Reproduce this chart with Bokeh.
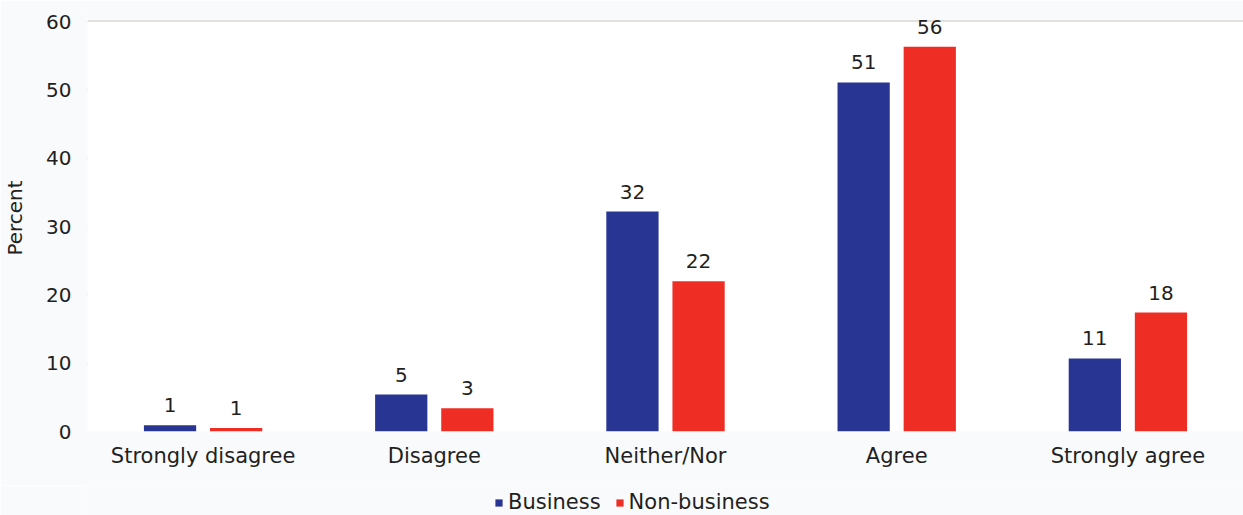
from bokeh.plotting import figure
from bokeh.layouts import column
from bokeh.models import ColumnDataSource, LabelSet, Legend, LegendItem, FactorRange, BoxAnnotation
from bokeh.transform import dodge
from bokeh.core.properties import value
from bokeh.embed import file_html
from bokeh.resources import INLINE

categories = ["Strongly disagree", "Disagree", "Neither/Nor", "Agree", "Strongly agree"]
business = [0.9, 5.4, 32.2, 51.1, 10.7]
nonbusiness = [0.5, 3.4, 22.0, 56.3, 17.4]
business_labels = ["1", "5", "32", "51", "11"]
nonbusiness_labels = ["1", "3", "22", "56", "18"]
series_names = ["Business", "Non-business"]
y_ticks = [0, 10, 20, 30, 40, 50, 60]

FONT = "DejaVu Sans"
TXT = "#231F20"
BLUE = "#283593"
RED = "#EE2E24"
BG = "#F9FAFC"

src = ColumnDataSource(dict(cat=categories, b=business, n=nonbusiness,
                            bl=business_labels, nl=nonbusiness_labels))

p = figure(x_range=FactorRange(*categories), y_range=(0, 62.5),
           width=1243, height=485, output_backend="svg", toolbar_location=None,
           min_border_left=86, min_border_right=0, min_border_top=4, min_border_bottom=54)
p.x_range.range_padding = 0

p.border_fill_color = BG
p.background_fill_color = BG
p.outline_line_color = None
p.add_layout(BoxAnnotation(top=60, fill_color="white", fill_alpha=1.0,
                           line_color=None, level="underlay"))

rb = p.vbar(x=dodge("cat", -0.143, range=p.x_range), top="b", width=0.226, source=src,
            fill_color=BLUE, line_color=None)
rn = p.vbar(x=dodge("cat", 0.143, range=p.x_range), top="n", width=0.226, source=src,
            fill_color=RED, line_color=None)

for fld, lab, off in (("b", "bl", -0.143), ("n", "nl", 0.143)):
    ls = LabelSet(x=dodge("cat", off, range=p.x_range), y=fld, text=lab, source=src,
                  y_offset=13, text_align="center", text_baseline="alphabetic",
                  text_font=value(FONT), text_font_size="20px", text_color=TXT)
    p.add_layout(ls)

p.yaxis.ticker = y_ticks
p.xgrid.grid_line_color = None
p.ygrid.grid_line_color = "#C9C5C1"
p.ygrid.grid_line_width = 2

for ax in (p.xaxis[0], p.yaxis[0]):
    ax.axis_line_color = None
    ax.major_tick_line_color = None
    ax.minor_tick_line_color = None
    ax.major_tick_out = 0
    ax.major_tick_in = 0
    ax.major_label_text_font = FONT
    ax.major_label_text_color = TXT

p.yaxis.major_label_text_font_size = "20px"
p.yaxis.major_label_standoff = 16
p.yaxis.axis_label = "Percent"
p.yaxis.axis_label_text_font = FONT
p.yaxis.axis_label_text_font_size = "20px"
p.yaxis.axis_label_text_font_style = "normal"
p.yaxis.axis_label_text_color = TXT
p.yaxis.axis_label_standoff = 16

p.xaxis.major_label_text_font_size = "21px"
p.xaxis.major_label_standoff = 12

# legend strip
lg = figure(width=1243, height=30, x_range=(0, 1), y_range=(0, 1),
            output_backend="svg", toolbar_location=None,
            min_border_left=0, min_border_right=0, min_border_top=0, min_border_bottom=0)
lg.axis.visible = False
lg.grid.grid_line_color = None
lg.outline_line_color = None
lg.border_fill_color = BG
lg.background_fill_color = BG
d1 = lg.vbar(x=[5], top=[1], width=0.1, fill_color=BLUE, line_color=None)
d2 = lg.vbar(x=[5], top=[1], width=0.1, fill_color=RED, line_color=None)
legend = Legend(items=[LegendItem(label=series_names[0], renderers=[d1]),
                       LegendItem(label=series_names[1], renderers=[d2])],
                orientation="horizontal", location=(407, 1),
                glyph_width=9, glyph_height=9, label_standoff=5, spacing=14,
                padding=0, margin=0, border_line_color=None, background_fill_alpha=0,
                label_text_font=FONT, label_text_font_size="21px", label_text_color=TXT)
lg.add_layout(legend, "center")

layout = column(p, lg, spacing=0)
open("out.html", "w").write(file_html(layout, INLINE))
